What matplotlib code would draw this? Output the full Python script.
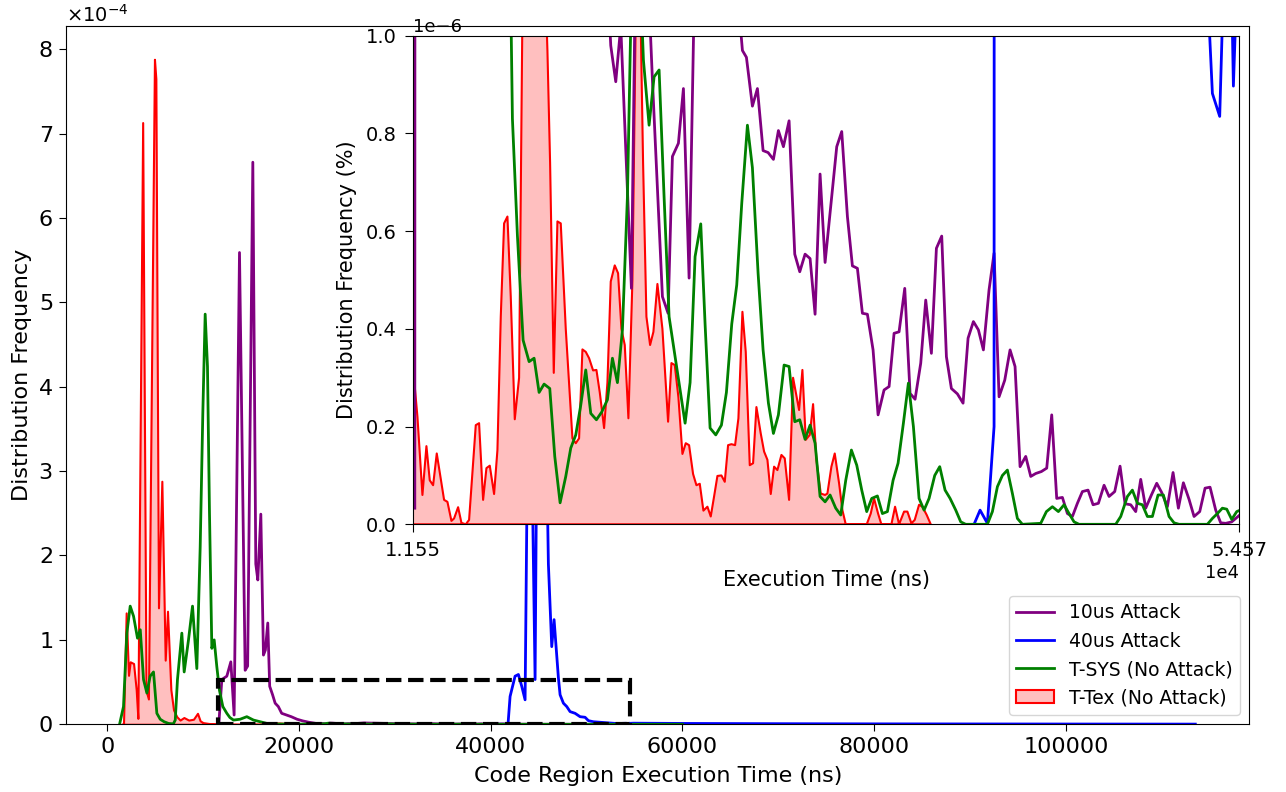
import matplotlib
matplotlib.use("Agg")
import matplotlib.pyplot as plt
from matplotlib.patches import Rectangle
import numpy as np

# values are in units of 1e-6
SCALE = 1e-6

# T-Tex (No Attack)
tex_x = [1500, 1700, 1980, 2225, 2400, 2750, 3025, 3200, 3700, 4050,
         4300, 4930, 5075, 5350, 5700, 6050, 6290, 6640, 6920, 7260,
         7600, 8000, 8500, 9000, 9420, 9700, 10000, 10570, 11000, 11300,
         11552, 11778, 12038, 12246, 12420, 12594, 12784, 13166, 13340, 13548,
         13687, 13896, 14069, 14295, 14468, 14816, 14989, 15198, 15371, 15545,
         15770, 15944, 16118, 16291, 16465, 16638, 16847, 17072, 17281, 17593,
         17940, 18288, 18548, 18687, 18878, 19069, 19242, 19503, 19850, 20024,
         20197, 20371, 20544, 20718, 20926, 21100, 21274, 21499, 21673, 21846,
         22054, 22228, 22402, 22576, 22766, 22975, 23200, 23374, 23530, 23704,
         23895, 24068, 24277, 24537, 24832, 25006, 25180, 25370, 25579, 25752,
         25926, 26134, 26308, 26482, 26672, 26881, 27054, 27228, 27402, 27610,
         27784, 27957, 28131, 28322, 28495, 28704, 28877, 29086, 29259, 29433,
         29658, 29832, 30006, 30179, 30353, 30526, 30735, 30908, 31134, 31342,
         31655, 31828, 32002, 32210, 32384, 32558, 32783, 33009, 33130, 33338,
         33512, 33738, 33911, 34085, 35178, 35387, 35560, 35769, 35942, 36463,
         36654, 36862, 37123, 37296, 37505, 37678, 37904, 38078, 38303, 38512]
tex_y = [0, 0, 132, 58, 74, 72, 41, 7, 713, 40,
         30, 788, 765, 138, 288, 76, 134, 41, 17, 9,
         5, 8, 5, 6, 13, 4, 2, 1, 0.6, 0.45,
         0.32, 0.22, 0.06, 0.16, 0.09, 0.08, 0.145, 0.05, 0.046, 0.007,
         0.012, 0.035, 0.003, 0.0, 0.009, 0.203, 0.207, 0.05, 0.115, 0.12,
         0.062, 0.152, 0.425, 0.616, 0.63, 0.466, 0.215, 0.30, 1.2, 1.5,
         1.6, 1.3, 0.97, 0.74, 0.31, 0.62, 0.616, 0.40, 0.176, 0.166,
         0.176, 0.358, 0.353, 0.34, 0.315, 0.316, 0.27, 0.197, 0.29, 0.497,
         0.53, 0.514, 0.40, 0.367, 0.217, 0.50, 1.2, 1.1, 0.74, 0.425,
         0.367, 0.394, 0.492, 0.40, 0.21, 0.33, 0.326, 0.26, 0.144, 0.166,
         0.162, 0.103, 0.08, 0.083, 0.028, 0.036, 0.016, 0.057, 0.099, 0.10,
         0.087, 0.162, 0.164, 0.162, 0.217, 0.435, 0.353, 0.121, 0.125, 0.24,
         0.186, 0.149, 0.132, 0.062, 0.118, 0.111, 0.142, 0.135, 0.05, 0.30,
         0.234, 0.316, 0.173, 0.183, 0.246, 0.132, 0.063, 0.06, 0.063, 0.118,
         0.145, 0.084, 0.029, 0, 0, 0.022, 0.053, 0.022, 0, 0,
         0.036, 0, 0.026, 0.026, 0.002, 0.009, 0.04, 0.036, 0.019, 0]

# T-SYS (No Attack)
sys_x = [1290, 1700, 2050, 2400, 2750, 3160, 3450, 3790, 4140, 4480,
         4830, 5180, 5530, 5940, 6400, 6900, 7100, 7330, 7786, 8030,
         8480, 8900, 9350, 9700, 9975, 10220, 10460, 10670, 10915, 11160,
         11437, 11715, 12062, 12479, 12800, 13174, 13870, 14564, 15260, 15955,
         16725, 16986, 17281, 17593, 17854, 18114, 18374, 18670, 18930, 19208,
         19503, 19763, 20024, 20284, 20544, 20805, 21100, 21378, 21673, 21933,
         22194, 22454, 22714, 22975, 23253, 23548, 23843, 24103, 24364, 24624,
         24884, 25145, 25440, 25718, 25978, 26238, 26534, 26759, 27020, 27315,
         27610, 27870, 28148, 28408, 28669, 28964, 29224, 29520, 29780, 30058,
         30318, 30578, 30874, 31134, 31429, 31690, 31967, 32228, 32488, 32748,
         33009, 33269, 33564, 33824, 34085, 34380, 34658, 34918, 35178, 35439,
         35734, 35994, 36255, 36550, 36810, 37088, 37348, 37609, 37904, 38164,
         38425, 38720, 38980, 39258, 39519, 39814, 40074, 40334, 41463, 41723,
         41984, 42244, 42504, 42765, 43025, 43286, 44240, 44536, 44848, 45160,
         45456, 45716, 45976, 46237, 48146, 48407, 48754, 49014, 49275, 49535,
         49796, 50056, 50351, 50629, 50924, 51184, 51445, 52920, 53181, 53441,
         53701, 53927, 54188, 54448, 54743, 60000]
sys_y = [0, 21, 108, 140, 128, 102, 112, 53, 37, 57,
         62, 13, 6, 3, 1, 0.5, 5, 53, 108, 62,
         100, 140, 66, 210, 369, 486, 424, 250, 90, 100,
         68, 40, 21, 13, 8, 5, 6, 9, 5, 3,
         0.83, 0.59, 0.377, 0.333, 0.34, 0.27, 0.287, 0.278, 0.139, 0.044,
         0.098, 0.156, 0.183, 0.244, 0.316, 0.227, 0.214, 0.23, 0.255, 0.34,
         0.29, 0.398, 0.67, 1.2, 1.25, 0.95, 0.817, 0.916, 0.93, 0.67,
         0.425, 0.357, 0.28, 0.207, 0.29, 0.548, 0.615, 0.41, 0.197, 0.183,
         0.203, 0.27, 0.41, 0.49, 0.657, 0.817, 0.73, 0.514, 0.357, 0.248,
         0.186, 0.224, 0.326, 0.323, 0.21, 0.214, 0.174, 0.203, 0.166, 0.057,
         0.046, 0.06, 0.033, 0.019, 0.09, 0.152, 0.121, 0.07, 0.026, 0.053,
         0.058, 0.022, 0.026, 0.09, 0.125, 0.207, 0.289, 0.2, 0.053, 0.029,
         0.053, 0.10, 0.118, 0.07, 0.053, 0.029, 0.005, 0, 0, 0.026,
         0.077, 0.1, 0.111, 0.063, 0.012, 0, 0.002, 0.026, 0.036, 0.026,
         0.04, 0.022, 0.005, 0, 0, 0.016, 0.057, 0.07, 0.043, 0.04,
         0.016, 0.016, 0.06, 0.06, 0.016, 0.003, 0, 0, 0.012, 0.022,
         0.033, 0.031, 0.01, 0.026, 0.031, 0]

# 10us Attack
a10_x = [11640, 11958, 12479, 12896, 13240, 13800, 14390, 14650, 15190, 15500,
         15711, 16024, 16300, 16500, 16750, 16950, 17250, 17520, 17850, 18200,
         18700, 19200, 19800, 20400, 21000, 21500, 21760, 21846, 22107, 22367,
         22923, 23183, 23461, 23704, 24016, 24537, 24832, 25058, 25370, 25631,
         25926, 26204, 26534, 26794, 27141, 27488, 27836, 28183, 28530, 28704,
         28912, 29224, 29485, 29780, 30041, 30318, 30578, 30839, 31134, 31429,
         31690, 31967, 32228, 32488, 32748, 33009, 33616, 33876, 34172, 34432,
         34692, 34953, 35213, 35508, 35769, 36081, 36342, 36602, 36862, 37158,
         37435, 37696, 37991, 38251, 38546, 38807, 39084, 39328, 39588, 39900,
         40195, 40456, 40734, 40994, 41254, 41549, 41810, 42070, 42366, 42643,
         42903, 43164, 43459, 43720, 43980, 44275, 44553, 44813, 45073, 45369,
         45629, 45890, 46150, 46410, 46705, 46966, 47244, 47539, 47799, 48094,
         48372, 48632, 48928, 49188, 49448, 49709, 50004, 50282, 50542, 50837,
         51132, 51410, 51670, 51966, 52226, 52521, 52799, 53059, 53354, 53614,
         53875, 54188, 54604, 60000]
a10_y = [0.033, 53, 57, 74, 11, 559, 64, 69, 666, 190,
         171, 249, 82, 88, 120, 45, 35, 25, 21, 13,
         11, 9, 6, 4, 2.5, 1.5, 1.05, 0.98, 0.906, 1.02,
         0.483, 1.3, 1.4, 1.2, 0.91, 0.466, 0.432, 0.753, 0.78, 0.892,
         0.504, 1.1, 1.4, 1.6, 1.5, 1.3, 1.4, 1.2, 1.05, 0.97,
         0.956, 0.856, 0.892, 0.765, 0.761, 0.747, 0.806, 0.773, 0.826, 0.553,
         0.517, 0.553, 0.544, 0.43, 0.717, 0.536, 0.773, 0.804, 0.63, 0.529,
         0.524, 0.432, 0.43, 0.357, 0.224, 0.275, 0.282, 0.391, 0.394, 0.483,
         0.268, 0.256, 0.33, 0.459, 0.35, 0.565, 0.59, 0.343, 0.278, 0.267,
         0.248, 0.381, 0.415, 0.398, 0.357, 0.48, 0.555, 0.261, 0.295, 0.357,
         0.323, 0.118, 0.139, 0.098, 0.104, 0.108, 0.115, 0.224, 0.053, 0.055,
         0.022, 0.016, 0.043, 0.067, 0.07, 0.04, 0.043, 0.08, 0.057, 0.067,
         0.119, 0.042, 0.04, 0.026, 0.092, 0.033, 0.06, 0.084, 0.065, 0.036,
         0.106, 0.033, 0.085, 0.051, 0.016, 0.026, 0.074, 0.076, 0.029, 0.003,
         0.002, 0.005, 0.019, 0]

# 40us Attack
a40_x = [40768, 41081, 41463, 41810, 42025, 42546, 42893, 43242, 43590, 43900,
         44285, 44633, 44900, 45300, 45700, 46020, 46370, 46613, 47065, 47240,
         47587, 47935, 48283, 48804, 49325, 49846, 50194, 50715, 51410, 52300,
         52920, 53181, 53562, 53754, 54136, 54275, 54448, 54900, 60000, 70000,
         80000, 90000, 100000, 113500]
a40_y = [0, 0.029, 0.002, 0.2, 33, 57, 59, 45, 29, 400,
         330, 53, 480, 300, 420, 190, 92, 124, 55, 35,
         25, 21, 15, 13, 9, 8.3, 4.3, 3, 2.4, 1.6,
         1.1, 0.882, 0.835, 1.1, 1.2, 0.897, 1.1, 1.3, 1.0, 0.7,
         0.5, 0.4, 0.3, 0.2]

zoom_x = (11550, 54570)
zoom_box_h = 0.52e-4

plt.rcParams['font.size'] = 13

fig = plt.figure(figsize=(12.86, 7.92), dpi=100)
ax = fig.add_axes([0.0513, 0.0855, 0.9203, 0.8823])
ins = fig.add_axes([0.3212, 0.338, 0.6423, 0.6168])


def draw(a):
    a.plot(a10_x, np.array(a10_y) * SCALE, color='purple', lw=2, label='10us Attack')
    a.plot(a40_x, np.array(a40_y) * SCALE, color='blue', lw=2, label='40us Attack')
    a.fill_between(tex_x, np.array(tex_y) * SCALE, facecolor=(1, 0, 0, 0.25),
                   edgecolor='red', lw=1.5, label='T-Tex (No Attack)', zorder=1.5)
    a.plot(sys_x, np.array(sys_y) * SCALE, color='green', lw=2, label='T-SYS (No Attack)')


draw(ax)
ax.set_xlim(-4300, 119150)
ax.set_ylim(0, 8.28e-4)
ax.ticklabel_format(axis='y', style='sci', scilimits=(0, 0), useMathText=True)
ax.tick_params(labelsize=16, length=5, pad=4.5)
ax.yaxis.get_offset_text().set_fontsize(14)
ax.set_xlabel('Code Region Execution Time (ns)', fontsize=16, labelpad=6)
ax.set_ylabel('Distribution Frequency', fontsize=16)

ax.add_patch(Rectangle((zoom_x[0], 0), zoom_x[1] - zoom_x[0], zoom_box_h,
                       fill=False, edgecolor='black', ls='--', lw=3, zorder=3))

h, l = ax.get_legend_handles_labels()
order = [l.index(n) for n in ['10us Attack', '40us Attack', 'T-SYS (No Attack)', 'T-Tex (No Attack)']]
ax.legend([h[i] for i in order], [l[i] for i in order], loc='lower right', fontsize=13.5)

draw(ins)
ins.set_xlim(*zoom_x)
ins.set_ylim(0, 1e-6)
ins.set_xticks(list(zoom_x))
ins.ticklabel_format(axis='both', style='sci', scilimits=(0, 0))
ins.tick_params(labelsize=14, length=6, pad=6)
ins.set_xlabel('Execution Time (ns)', fontsize=15, labelpad=7)
ins.set_ylabel('Distribution Frequency (%)', fontsize=15, labelpad=6)

fig.savefig('out.png', dpi=100)
